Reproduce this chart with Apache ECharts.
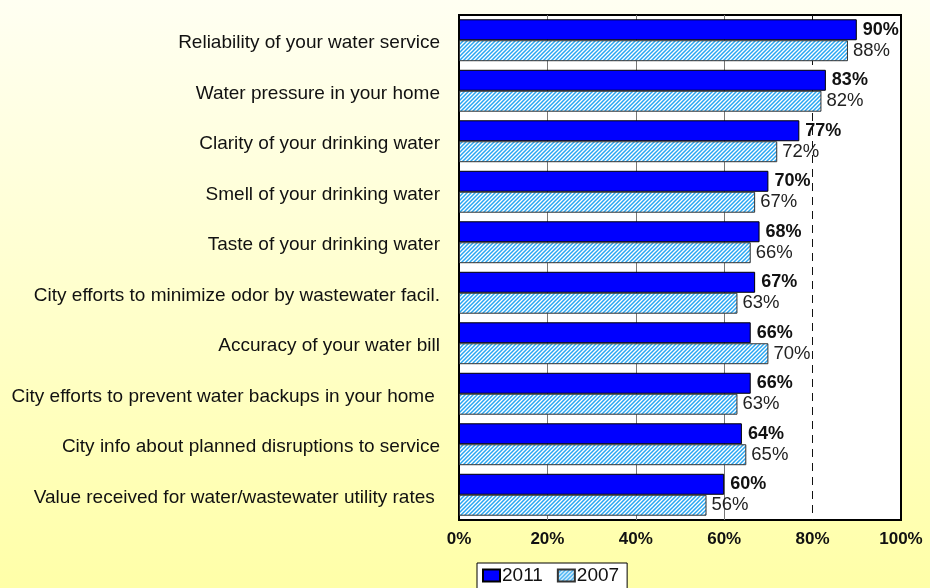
<!DOCTYPE html>
<html>
<head>
<meta charset="utf-8">
<script src="https://cdn.jsdelivr.net/npm/echarts@6/dist/echarts.min.js"></script>
<style>
  html, body { margin: 0; padding: 0; }
  #chart { width: 930px; height: 588px; }
</style>
</head>
<body>
<div id="chart"></div>
<script>
// Satisfaction ratings, share of respondents (%)
const categories = [
  'Reliability of your water service',
  'Water pressure in your home',
  'Clarity of your drinking water',
  'Smell of your drinking water',
  'Taste of your drinking water',
  'City efforts to minimize odor by wastewater facil.',
  'Accuracy of your water bill',
  'City efforts to prevent water backups in your home ',
  'City info about planned disruptions to service',
  'Value received for water/wastewater utility rates '
];
const values2011 = [90, 83, 77, 70, 68, 67, 66, 66, 64, 60];
const values2007 = [88, 82, 72, 67, 66, 63, 70, 63, 65, 56];
const seriesNames = ['2011', '2007'];

const FONT = "'Liberation Sans', Arial, Helvetica, sans-serif";

// Diagonal hatch fill for the 2007 bars
function makeHatch() {
  const c = document.createElement('canvas');
  const s = 4;
  c.width = s; c.height = s;
  const g = c.getContext('2d');
  g.fillStyle = '#ffffff';
  g.fillRect(0, 0, s, s);
  g.strokeStyle = '#29a6f2';
  g.lineWidth = 1.5;
  g.beginPath();
  g.moveTo(0, s); g.lineTo(s, 0);
  g.moveTo(-1, 1); g.lineTo(1, -1);
  g.moveTo(s - 1, s + 1); g.lineTo(s + 1, s - 1);
  g.stroke();
  return c;
}
const hatch = { image: makeHatch(), repeat: 'repeat' };

const chart = echarts.init(document.getElementById('chart'), null, { renderer: 'canvas' });

chart.setOption({
  animation: false,
  backgroundColor: {
    type: 'linear', x: 0, y: 0, x2: 0, y2: 1,
    colorStops: [
      { offset: 0, color: '#fffff2' },
      { offset: 1, color: '#ffffa8' }
    ]
  },
  textStyle: { fontFamily: FONT },
  grid: {
    left: 459, top: 15, width: 442, height: 505,
    show: true, backgroundColor: '#ffffff',
    borderColor: '#000000', borderWidth: 2
  },
  legend: {
    data: seriesNames,
    left: 477, top: 563,
    orient: 'horizontal',
    backgroundColor: '#ffffff',
    borderColor: '#000000', borderWidth: 1,
    borderRadius: 0,
    padding: [3, 8, 6, 5],
    itemWidth: 17, itemHeight: 12, itemGap: 14,
    icon: 'rect',
    textStyle: { fontSize: 19, color: '#111', fontFamily: FONT, padding: [0, 0, 0, -3] }
  },
  xAxis: [
    {
      type: 'value', min: 0, max: 100, interval: 20,
      axisLine: { show: false }, axisTick: { show: false },
      axisLabel: {
        formatter: '{value}%', fontSize: 17, fontWeight: 'bold',
        color: '#111', margin: 11, fontFamily: FONT
      },
      splitLine: {
        show: true,
        lineStyle: {
          color: ['rgba(0,0,0,0)', '#777', '#777', '#777', 'rgba(0,0,0,0)', 'rgba(0,0,0,0)'],
          width: 1
        }
      }
    },
    {
      // reference line at 80%
      type: 'value', min: 0, max: 100, interval: 80, position: 'top',
      axisLine: { show: false }, axisTick: { show: false }, axisLabel: { show: false },
      splitLine: {
        show: true, showMinLine: false, showMaxLine: false,
        lineStyle: { color: '#111', width: 1, type: [8, 6] }
      }
    }
  ],
  yAxis: {
    type: 'category', data: categories, inverse: true,
    axisLine: { show: false }, axisTick: { show: false },
    axisLabel: {
      fontSize: 19, color: '#111', margin: 19, fontFamily: FONT,
      verticalAlign: 'top', lineHeight: 6
    },
    splitLine: { show: false }
  },
  series: [
    {
      name: seriesNames[0], type: 'bar', data: values2011,
      barGap: '0%', barCategoryGap: '17%',
      itemStyle: { color: '#0000ff', borderColor: '#000000', borderWidth: 1 },
      label: {
        show: true, position: 'right', distance: 6,
        formatter: '{c}%', fontSize: 18, fontWeight: 'bold', color: '#111', fontFamily: FONT
      }
    },
    {
      name: seriesNames[1], type: 'bar', data: values2007,
      barGap: '0%', barCategoryGap: '17%',
      itemStyle: { color: hatch, borderColor: '#333', borderWidth: 1 },
      label: {
        show: true, position: 'right', distance: 5,
        formatter: '{c}%', fontSize: 18.5, color: '#222', fontFamily: FONT
      }
    }
  ]
});
</script>
</body>
</html>
